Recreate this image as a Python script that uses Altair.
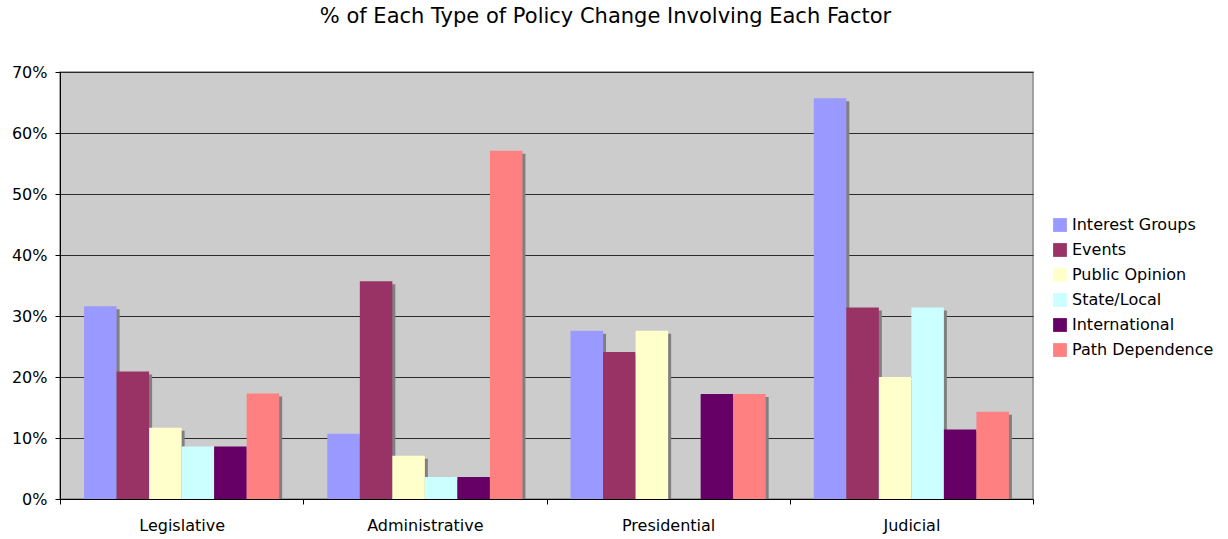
import altair as alt
import pandas as pd

# Policy change types and the factors involved in each
categories = ["Legislative", "Administrative", "Presidential", "Judicial"]
factors = ["Interest Groups", "Events", "Public Opinion", "State/Local",
           "International", "Path Dependence"]

# Share (%) of each type of policy change involving each factor
interest_groups = [31.6, 10.7, 27.6, 65.7]
events = [20.9, 35.7, 24.1, 31.4]
public_opinion = [11.7, 7.1, 27.6, 20.0]
state_local = [8.6, 3.6, 0.0, 31.4]
international = [8.6, 3.6, 17.2, 11.4]
path_dependence = [17.3, 57.1, 17.2, 14.3]

colors = ["#9999FF", "#993366", "#FFFFCC", "#CCFFFF", "#660066", "#FF8080"]

series = [interest_groups, events, public_opinion, state_local,
          international, path_dependence]
rows = []
for factor, values in zip(factors, series):
    for cat, v in zip(categories, values):
        rows.append({"type": cat, "factor": factor, "share": v / 100.0})
df = pd.DataFrame(rows)

FONT = "DejaVu Sans"
W, H = 973, 427
SHADOW = 3  # drop-shadow offset in pixels

xo_enc = alt.XOffset(
    "factor:N", sort=factors,
    scale=alt.Scale(paddingInner=0, paddingOuter=0.74),
)

# Drop shadow: same bars, drawn through scales shifted right and down
shadow = alt.Chart(df).mark_bar(color="#808080", clip=True).encode(
    x=alt.X("type:N", sort=categories,
            scale=alt.Scale(paddingInner=0, paddingOuter=0,
                            range=[SHADOW, W + SHADOW]),
            axis=None),
    xOffset=xo_enc,
    y=alt.Y("share:Q",
            scale=alt.Scale(domain=[0, 0.7], nice=False,
                            range=[H + SHADOW, SHADOW]),
            axis=None),
)

bars = alt.Chart(df).mark_bar().encode(
    x=alt.X(
        "type:N",
        sort=categories,
        scale=alt.Scale(paddingInner=0, paddingOuter=0),
        axis=alt.Axis(
            title=None, labelAngle=0, tickBand="extent", tickSize=5,
            tickColor="#000000", domainColor="#000000", labelPadding=13,
            labelFontSize=16, labelFont=FONT, labelColor="#000000", grid=False,
        ),
    ),
    xOffset=xo_enc,
    y=alt.Y(
        "share:Q",
        scale=alt.Scale(domain=[0, 0.7], nice=False),
        axis=alt.Axis(
            title=None, format=".0%",
            values=[0, 0.1, 0.2, 0.3, 0.4, 0.5, 0.6, 0.7],
            tickSize=5, tickColor="#000000", domainColor="#000000",
            labelPadding=8, labelFontSize=16, labelFont=FONT,
            labelColor="#000000",
            grid=True, gridColor="#2b2b2b", gridWidth=1.2,
        ),
    ),
    color=alt.Color(
        "factor:N", sort=factors,
        scale=alt.Scale(domain=factors, range=colors),
        legend=alt.Legend(
            title=None, orient="none", legendX=992, legendY=145,
            symbolType="square", symbolSize=190, symbolStrokeWidth=0,
            labelFontSize=16, labelFont=FONT, labelColor="#000000",
            rowPadding=9, labelOffset=4,
        ),
    ),
)

chart = alt.layer(shadow, bars).resolve_scale(
    x="independent", y="independent"
).properties(
    width=W,
    height=H,
    autosize=alt.AutoSizeParams(type="none"),
    padding={"left": 60, "top": 72, "right": 195, "bottom": 40},
    background="#FFFFFF",
    title=alt.TitleParams(
        "% of Each Type of Policy Change Involving Each Factor",
        font=FONT, fontSize=21, fontWeight="normal", color="#000000",
        anchor="middle", dx=59, offset=37,
    ),
).configure_view(
    fill="#CCCCCC", stroke="#8C8C8C", strokeWidth=1.5
)

chart.save("out.html", embed_options={"renderer": "svg", "actions": False})
